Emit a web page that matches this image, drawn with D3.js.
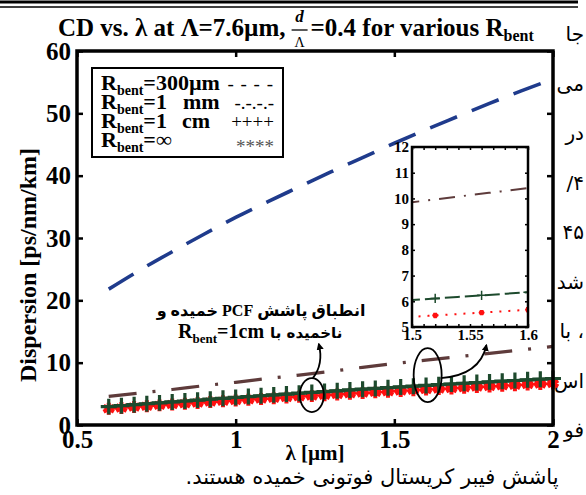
<!DOCTYPE html>
<html>
<head>
<meta charset="utf-8">
<script src="https://cdn.jsdelivr.net/npm/d3@7"></script>
<style>
  body { margin: 0; background: #fff; }
  svg { display: block; font-family: "Liberation Serif", "Times New Roman", serif; }
</style>
</head>
<body>
<div id="chart"></div>
<script>
// Wavelength grid of the marked curves (µm)
const lamFine = [0.60,0.64,0.68,0.72,0.76,0.80,0.84,0.88,0.92,0.96,1.00,1.04,1.08,1.12,1.16,1.20,1.24,1.28,
                 1.32,1.36,1.40,1.44,1.48,1.52,1.56,1.60,1.64,1.68,1.72,1.76,1.80,1.84,1.88,1.92,1.96,2.00];
// R_bent = 1 cm  (green, +)
const dispCm = [2.95,3.10,3.26,3.41,3.55,3.70,3.85,3.99,4.14,4.28,4.42,4.56,4.69,4.83,4.96,5.10,5.23,5.36,
                5.49,5.62,5.74,5.87,5.99,6.11,6.23,6.35,6.47,6.58,6.70,6.81,6.92,7.03,7.14,7.25,7.35,7.46];
// R_bent = infinity  (red, *)
const dispInf = [2.61,2.74,2.88,3.02,3.15,3.28,3.42,3.54,3.68,3.80,3.93,4.05,4.17,4.30,4.41,4.54,4.66,4.77,
                 4.89,5.01,5.12,5.23,5.34,5.45,5.56,5.67,5.77,5.87,5.98,6.08,6.18,6.28,6.38,6.48,6.57,6.66];

// Coarser grid for the dashed curves
const lamCoarse = [0.6,0.7,0.8,0.9,1.0,1.1,1.2,1.3,1.4,1.5,1.6,1.7,1.8,1.9,2.0];
const disp300um = [21.8,24.9,27.8,30.6,33.3,35.8,38.2,40.6,42.9,45.2,47.4,49.5,51.6,53.6,55.5];
const disp1mm   = [4.6,5.15,5.7,6.3,6.85,7.45,8.0,8.6,9.25,9.85,10.4,10.95,11.5,12.05,12.6];

// Axis ticks
const xTicks = [0.5, 1, 1.5, 2];
const yTicks = [0, 10, 20, 30, 40, 50, 60];
const insetXLabels = [1.5, 1.55, 1.6];
const insetYTicks = [5, 6, 7, 8, 9, 10, 11, 12];

// Legend
const legendRadius = ['=300µm', '=1', '=1', '=∞'];
const legendUnit = ['', 'mm', 'cm', ''];
const legendSymbol = ['- - - -', '-.-.-.-', '++++', '****'];

// Persian text fragments on the page
const rightFragments = ['جا', 'می', 'در', '/۴', '۴۵', 'شد', 'با ،', 'اس', 'فو'];
const noteLine1 = 'انطباق پاشش PCF خمیده و';
const noteLine2 = 'ناخمیده با';
const captionLine = 'پاشش فیبر کریستال فوتونی خمیده هستند.';

const W = 586, H = 495;
const margin = { top: 51, right: 33, bottom: 70, left: 77 };
const width = W - margin.left - margin.right;
const height = H - margin.top - margin.bottom;

const colors = { blue: '#1f3b8c', brown: '#5e3b3b', green: '#1d4a2d', red: '#ff1010' };

const svg = d3.select('#chart').append('svg')
    .attr('width', W)
    .attr('height', H);

const defs = svg.append('defs');
defs.append('marker')
    .attr('id', 'arrow')
    .attr('viewBox', '0 0 10 10')
    .attr('refX', 8).attr('refY', 5)
    .attr('markerWidth', 4).attr('markerHeight', 4)
    .attr('orient', 'auto')
    .append('path')
    .attr('d', 'M0,0 L10,5 L0,10 Z')
    .attr('fill', '#000');

// page rules at the top
svg.append('line').attr('x1', 0).attr('x2', 578).attr('y1', 2).attr('y2', 2)
    .attr('stroke', '#000').attr('stroke-width', 3);
svg.append('line').attr('x1', 0).attr('x2', 578).attr('y1', 7).attr('y2', 7)
    .attr('stroke', '#000').attr('stroke-width', 1.5);

// Persian text around the figure
svg.selectAll('.frag')
    .data(rightFragments)
    .enter()
    .append('text')
    .attr('class', 'frag')
    .attr('x', 584)
    .attr('y', (d, i) => 41 + i * 49.5)
    .attr('text-anchor', 'end')
    .style('font-family', '"DejaVu Sans", sans-serif')
    .style('font-size', '20px')
    .text(d => d);

svg.append('text')
    .attr('x', 372)
    .attr('y', 484)
    .attr('direction', 'rtl')
    .attr('text-anchor', 'middle')
    .style('font-family', '"DejaVu Sans", sans-serif')
    .style('font-size', '21px')
    .text(captionLine);

// Title
const title1 = svg.append('text')
    .attr('x', 58).attr('y', 36)
    .style('font-size', '25px').style('font-weight', 'bold')
    .text('CD vs. λ at Λ=7.6µm,');
const t1w = title1.node().getComputedTextLength();
const fracX = 58 + t1w + 14;
svg.append('text').attr('x', fracX).attr('y', 22).attr('text-anchor', 'middle')
    .style('font-size', '17px').style('font-weight', 'bold').style('font-style', 'italic').text('d');
svg.append('line').attr('x1', fracX - 8).attr('x2', fracX + 8).attr('y1', 30).attr('y2', 30)
    .attr('stroke', '#000').attr('stroke-width', 1.3);
svg.append('text').attr('x', fracX).attr('y', 47).attr('text-anchor', 'middle')
    .style('font-size', '14px').text('Λ');
const title2 = svg.append('text')
    .attr('x', fracX + 11).attr('y', 36)
    .style('font-size', '25px').style('font-weight', 'bold');
title2.append('tspan').text('=0.4 for various R');
title2.append('tspan').attr('dy', 5).style('font-size', '16px').text('bent');

const g = svg.append('g')
    .attr('transform', `translate(${margin.left},${margin.top})`);

// Scales
const x = d3.scaleLinear().domain([0.5, 2]).range([0, width]);
const y = d3.scaleLinear().domain([0, 60]).range([height, 0]);

const styleTicks = (sel, size) => {
    sel.select('.domain').remove();
    sel.selectAll('.tick line').attr('stroke', '#000').attr('stroke-width', 2.5);
    sel.selectAll('.tick text')
        .attr('fill', '#000')
        .style('font-family', '"Liberation Serif", serif')
        .style('font-weight', 'bold')
        .style('font-size', size + 'px');
};

// Axes (inward ticks on all four sides)
g.append('g')
    .attr('transform', `translate(0,${height})`)
    .call(d3.axisBottom(x).tickValues(xTicks).tickSize(-6).tickPadding(5).tickFormat(d => d))
    .call(s => styleTicks(s, 25));
g.append('g')
    .call(d3.axisTop(x).tickValues(xTicks).tickSize(-6).tickFormat(''))
    .call(s => styleTicks(s, 25));
g.append('g')
    .call(d3.axisLeft(y).tickValues(yTicks).tickSize(-6).tickPadding(6).tickFormat(d => d))
    .call(s => styleTicks(s, 25));
g.append('g')
    .attr('transform', `translate(${width},0)`)
    .call(d3.axisRight(y).tickValues(yTicks).tickSize(-6).tickFormat(''))
    .call(s => styleTicks(s, 25));

// Axis titles
g.append('text')
    .attr('x', width / 2)
    .attr('y', height + 35)
    .attr('text-anchor', 'middle')
    .style('font-size', '21px').style('font-weight', 'bold')
    .text('λ  [µm]');
g.append('text')
    .attr('transform', 'rotate(-90)')
    .attr('x', -(height / 2) - 27)
    .attr('y', -41)
    .attr('text-anchor', 'middle')
    .style('font-size', '24px').style('font-weight', 'bold')
    .text('Dispersion [ps/nm/km]');

// Curves
const zip = (xs, ys) => xs.map((v, i) => [v, ys[i]]);
const line = d3.line().x(d => x(d[0])).y(d => y(d[1])).curve(d3.curveMonotoneX);

g.append('path')
    .datum(zip(lamCoarse, disp300um))
    .attr('d', line)
    .attr('fill', 'none')
    .attr('stroke', colors.blue)
    .attr('stroke-width', 3.6)
    .attr('stroke-dasharray', '29,16');

g.append('path')
    .datum(zip(lamCoarse, disp1mm))
    .attr('d', line)
    .attr('fill', 'none')
    .attr('stroke', colors.brown)
    .attr('stroke-width', 3.2)
    .attr('stroke-dasharray', '28,16,3,16');

const redData = zip(lamFine, dispInf);
const greenData = zip(lamFine, dispCm);

g.append('path')
    .datum(redData)
    .attr('d', line)
    .attr('fill', 'none')
    .attr('stroke', colors.red)
    .attr('stroke-width', 2.5);
g.selectAll('.star')
    .data(redData)
    .enter()
    .append('path')
    .attr('class', 'star')
    .attr('transform', d => `translate(${x(d[0])},${y(d[1])})`)
    .attr('d', d3.symbol(d3.symbolAsterisk, 100))
    .attr('fill', 'none')
    .attr('stroke', colors.red)
    .attr('stroke-width', 4);

g.append('path')
    .datum(greenData)
    .attr('d', line)
    .attr('fill', 'none')
    .attr('stroke', colors.green)
    .attr('stroke-width', 3);
g.selectAll('.plus')
    .data(greenData)
    .enter()
    .append('path')
    .attr('class', 'plus')
    .attr('transform', d => `translate(${x(d[0])},${y(d[1])})`)
    .attr('d', d3.symbol(d3.symbolPlus, 85))
    .attr('fill', 'none')
    .attr('stroke', colors.green)
    .attr('stroke-width', 3.2);

// Frame
g.append('rect')
    .attr('width', width)
    .attr('height', height)
    .attr('fill', 'none')
    .attr('stroke', '#000')
    .attr('stroke-width', 3.5);

// Legend
const legend = g.append('g').attr('transform', 'translate(15,17)');
legend.append('rect')
    .attr('width', 191).attr('height', 89)
    .attr('fill', '#fff').attr('stroke', '#000').attr('stroke-width', 2);
legendRadius.forEach((r, i) => {
    const t = legend.append('text')
        .attr('x', 9).attr('y', 22 + i * 19)
        .style('font-size', '22px').style('font-weight', 'bold');
    t.append('tspan').text('R');
    t.append('tspan').attr('dy', 5).style('font-size', '14px').text('bent');
    t.append('tspan').attr('dy', -5).text(r);
    if (legendUnit[i]) {
        t.append('tspan').attr('x', i === 1 ? 91 : 90).text(legendUnit[i]);
    }
    legend.append('text')
        .attr('x', 182).attr('y', 22 + i * 19 + (i === 3 ? 6 : 0))
        .attr('text-anchor', 'end')
        .attr('fill', i === 3 ? '#555' : '#000')
        .style('font-size', '19px')
        .style('letter-spacing', i === 0 ? '1px' : '0px')
        .text(legendSymbol[i]);
});

// Annotation: ellipses and arrows
const ell1 = { cx: x(1.24), cy: y(4.8), rx: 12, ry: 17 };
const ell2 = { cx: x(1.605), cy: y(8.0), rx: 14, ry: 27 };
[ell1, ell2].forEach(e => {
    g.append('ellipse')
        .attr('cx', e.cx).attr('cy', e.cy).attr('rx', e.rx).attr('ry', e.ry)
        .attr('fill', 'none').attr('stroke', '#000').attr('stroke-width', 1.8);
});
g.append('path')
    .attr('d', `M${ell1.cx + 1},${ell1.cy - ell1.ry} Q${ell1.cx + 12},${ell1.cy - ell1.ry - 14} ${x(1.262)},${y(13.0)}`)
    .attr('fill', 'none').attr('stroke', '#000').attr('stroke-width', 1.8)
    .attr('marker-end', 'url(#arrow)');
g.append('path')
    .attr('d', `M${ell2.cx + ell2.rx - 1},${ell2.cy + 3} Q${x(1.77)},${ell2.cy} ${x(1.79)},${y(12.8)}`)
    .attr('fill', 'none').attr('stroke', '#000').attr('stroke-width', 1.8)
    .attr('marker-end', 'url(#arrow)');

// Annotation text
const noteX = x(1.08);
g.append('text')
    .attr('x', noteX).attr('y', y(17.5))
    .attr('direction', 'rtl')
    .attr('text-anchor', 'middle')
    .style('font-family', '"Liberation Serif", "DejaVu Sans", serif')
    .style('font-size', '16px').style('font-weight', 'bold')
    .text(noteLine1);
const note2 = g.append('text')
    .attr('x', noteX + 3).attr('y', y(14.0))
    .attr('text-anchor', 'end')
    .style('font-size', '20px').style('font-weight', 'bold');
note2.append('tspan').text('R');
note2.append('tspan').attr('dy', 5).style('font-size', '13px').text('bent');
note2.append('tspan').attr('dy', -5).text('=1cm');
g.append('text')
    .attr('x', noteX + 9).attr('y', y(14.0))
    .attr('text-anchor', 'start')
    .style('font-family', '"DejaVu Sans", sans-serif')
    .style('font-size', '15px').style('font-weight', 'bold')
    .text(noteLine2);

// Inset: zoom on 1.5 - 1.6 µm
const inset = { left: 335, top: 96, w: 116, h: 180 };
const ig = g.append('g').attr('transform', `translate(${inset.left},${inset.top})`);
const xi = d3.scaleLinear().domain([1.5, 1.6]).range([0, inset.w]);
const yi = d3.scaleLinear().domain([5, 12]).range([inset.h, 0]);
defs.append('clipPath').attr('id', 'insetClip')
    .append('rect').attr('width', inset.w).attr('height', inset.h);

ig.append('rect').attr('width', inset.w).attr('height', inset.h).attr('fill', '#fff');

ig.append('g')
    .attr('transform', `translate(0,${inset.h})`)
    .call(d3.axisBottom(xi).ticks(10).tickSize(-3).tickPadding(2)
        .tickFormat(d => insetXLabels.some(v => Math.abs(v - d) < 1e-9) ? +d.toFixed(2) : ''))
    .call(s => styleTicks(s, 15));
ig.append('g')
    .call(d3.axisTop(xi).ticks(10).tickSize(-3).tickFormat(''))
    .call(s => styleTicks(s, 15));
ig.append('g')
    .call(d3.axisLeft(yi).tickValues(insetYTicks).tickSize(-3).tickPadding(3).tickFormat(d => d))
    .call(s => styleTicks(s, 15));
ig.append('g')
    .attr('transform', `translate(${inset.w},0)`)
    .call(d3.axisRight(yi).tickValues(insetYTicks).tickSize(-3).tickFormat(''))
    .call(s => styleTicks(s, 15));
ig.selectAll('.tick line').attr('stroke-width', 1.5);

const lineI = d3.line().x(d => xi(d[0])).y(d => yi(d[1])).curve(d3.curveMonotoneX);
const clipped = ig.append('g').attr('clip-path', 'url(#insetClip)');

clipped.append('path')
    .datum(zip(lamCoarse, disp1mm))
    .attr('d', lineI)
    .attr('fill', 'none').attr('stroke', colors.brown).attr('stroke-width', 2)
    .attr('stroke-dasharray', '16,9,2,9');

clipped.append('path')
    .datum(greenData)
    .attr('d', lineI)
    .attr('fill', 'none').attr('stroke', colors.green).attr('stroke-width', 2)
    .attr('stroke-dasharray', '15,5');
clipped.selectAll('.iplus')
    .data(greenData.filter(d => d[0] > 1.5 && d[0] <= 1.6))
    .enter()
    .append('path')
    .attr('transform', d => `translate(${xi(d[0])},${yi(d[1])})`)
    .attr('d', d3.symbol(d3.symbolPlus, 30))
    .attr('fill', 'none').attr('stroke', colors.green).attr('stroke-width', 1.5);

clipped.append('path')
    .datum(redData)
    .attr('d', lineI)
    .attr('fill', 'none').attr('stroke', colors.red).attr('stroke-width', 2)
    .attr('stroke-dasharray', '2,7');
clipped.selectAll('.istar')
    .data(redData.filter(d => d[0] > 1.5 && d[0] <= 1.6))
    .enter()
    .append('path')
    .attr('transform', d => `translate(${xi(d[0])},${yi(d[1])})`)
    .attr('d', d3.symbol(d3.symbolAsterisk, 20))
    .attr('fill', 'none').attr('stroke', colors.red).attr('stroke-width', 3);

ig.append('rect')
    .attr('width', inset.w).attr('height', inset.h)
    .attr('fill', 'none').attr('stroke', '#000').attr('stroke-width', 2.5);
</script>
</body>
</html>
